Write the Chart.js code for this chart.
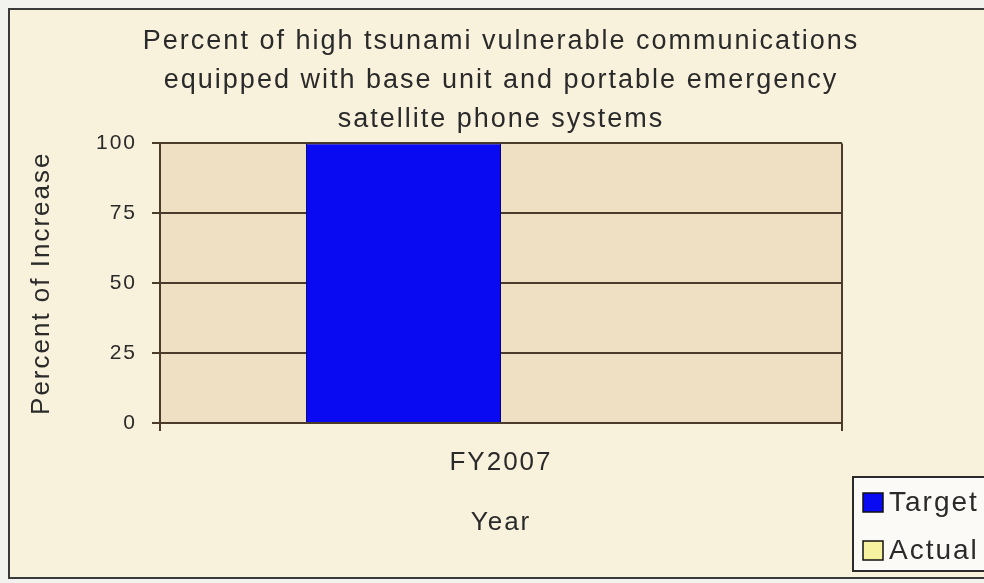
<!DOCTYPE html>
<html>
<head>
<meta charset="utf-8">
<style>
  html, body { margin: 0; padding: 0; background: #ffffff; }
  #wrap { width: 984px; height: 583px; position: relative; }
</style>
</head>
<body>
<div id="wrap"><canvas id="tsunamiChart" width="984" height="583"></canvas></div>
<script src="https://cdn.jsdelivr.net/npm/chart.js"></script>
<script>
  const years = ['FY2007'];
  const targetValues = [100];
  const actualValues = [0];
  const yTicks = [0, 25, 50, 75, 100];

  const ink = '#2a2a2a';
  const gridBrown = '#4b3b2b';
  const face = '"Liberation Sans", Arial, sans-serif';

  // page frame + plot area colours
  const backdrop = {
    id: 'backdrop',
    beforeDraw(chart) {
      const c = chart.ctx;
      const a = chart.chartArea;
      c.letterSpacing = '2px';   // the old chart has widely spaced glyphs
      c.save();
      c.fillStyle = '#f2f2ee';
      c.fillRect(0, 0, chart.width, chart.height);
      c.fillStyle = '#f8f1dc';
      c.fillRect(9, 9, chart.width - 9, 569);
      c.strokeStyle = '#3a3a3a';
      c.lineWidth = 2;
      c.strokeRect(9, 9, chart.width, 569);
      c.fillStyle = '#f0e0c3';
      c.fillRect(a.left, a.top, a.right - a.left, a.bottom - a.top);
      c.restore();
    }
  };

  // legend box in the lower right corner
  const cornerLegend = {
    id: 'cornerLegend',
    afterDraw(chart) {
      const c = chart.ctx;
      c.save();
      c.fillStyle = '#fbfaf6';
      c.fillRect(853, 477, 140, 94);
      c.strokeStyle = '#2a2a2a';
      c.lineWidth = 2;
      c.strokeRect(853, 477, 140, 94);
      c.font = '28px ' + face;
      c.textBaseline = 'middle';
      chart.data.datasets.forEach((ds, i) => {
        const y = 502 + i * 48;
        c.fillStyle = ds.backgroundColor;
        c.fillRect(863, y - 9, 20, 19);
        c.strokeStyle = '#111';
        c.lineWidth = 1.5;
        c.strokeRect(863, y - 9, 20, 19);
        c.fillStyle = ink;
        c.fillText(ds.label, 889, y + 1);
      });
      c.restore();
    }
  };

  new Chart(document.getElementById('tsunamiChart'), {
    type: 'bar',
    data: {
      labels: years,
      datasets: [
        {
          label: 'Target',
          data: targetValues,
          backgroundColor: '#0a0af2',
          borderColor: '#00007a',
          borderWidth: 1
        },
        {
          label: 'Actual',
          data: actualValues,
          backgroundColor: '#f6f2a0',
          borderColor: '#111',
          borderWidth: 0
        }
      ]
    },
    options: {
      responsive: false,
      animation: false,
      devicePixelRatio: 1,
      layout: { padding: { left: 18, right: 0, top: 0, bottom: 0 } },
      datasets: { bar: { categoryPercentage: 0.572, barPercentage: 1 } },
      plugins: {
        legend: { display: false },
        tooltip: { enabled: false },
        title: {
          display: true,
          text: ['Percent of high tsunami vulnerable communications',
                 'equipped with base unit and portable emergency',
                 'satellite phone systems'],
          color: ink,
          font: { family: face, size: 27, weight: 'normal', lineHeight: 1.45 },
          padding: { top: 22, bottom: 4 },
          align: 'center'
        }
      },
      scales: {
        x: {
          afterFit(scale) { scale.height = 160; },
          grid: { color: gridBrown, lineWidth: 2, tickLength: 8, offset: true },
          border: { color: gridBrown, width: 2 },
          ticks: {
            color: ink,
            padding: 16,
            font: { family: face, size: 26 }
          },
          title: {
            display: true,
            text: 'Year',
            color: ink,
            font: { family: face, size: 26 },
            padding: { top: 0, bottom: 45 }
          }
        },
        y: {
          min: 0,
          max: 100,
          afterFit(scale) { scale.width = 142; },
          afterBuildTicks(scale) { scale.ticks = yTicks.map(v => ({ value: v })); },
          grid: { color: gridBrown, lineWidth: 2, tickLength: 8 },
          border: { color: gridBrown, width: 2 },
          ticks: {
            color: ink,
            padding: 15,
            font: { family: face, size: 21 }
          },
          title: {
            display: true,
            text: 'Percent of Increase',
            color: ink,
            font: { family: face, size: 26 },
            padding: { top: 8, bottom: 0 }
          }
        },
        // empty right-hand band for the legend, keeps the title centred on the plot
        yRight: {
          position: 'right',
          display: true,
          afterFit(scale) { scale.width = 142; },
          grid: { display: false },
          border: { display: false },
          ticks: { display: false }
        }
      }
    },
    plugins: [backdrop, cornerLegend]
  });
</script>
</body>
</html>
